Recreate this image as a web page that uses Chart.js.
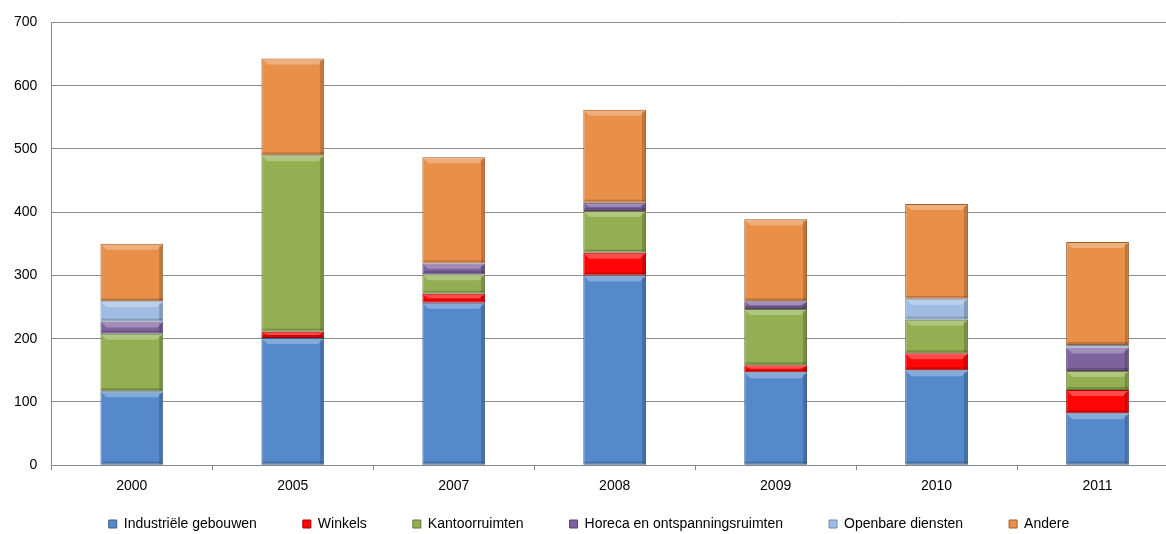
<!DOCTYPE html>
<html>
<head>
<meta charset="utf-8">
<script src="https://cdn.jsdelivr.net/npm/chart.js@4"></script>
<style>
  html, body { margin: 0; padding: 0; background: #fff; overflow: hidden; }
  #wrap { width: 1178px; height: 534px; position: relative; }
</style>
</head>
<body>
<div id="wrap"><canvas id="chart"></canvas></div>
<script>
// categorieën en reeksen
const years = ['2000', '2005', '2007', '2008', '2009', '2010', '2011'];
const industrie = [117, 201, 257, 300, 147, 150, 82];
const winkels = [0, 10, 14, 36, 11, 27, 37];
const kantoren = [91, 279, 31, 66, 89, 53, 30];
const horeca = [19, 0, 17, 13, 12, 0, 37];
const openbaar = [32, 0, 0, 0, 0, 33, 4];
const andere = [91, 153, 168, 147, 130, 150, 163];
const yTicks = [0, 100, 200, 300, 400, 500, 600, 700];

const series = [
    { label: 'Industriële gebouwen', data: industrie, color: '#5589CB', edge: '#3A5F8E' },
    { label: 'Winkels', data: winkels, color: '#FF0505', edge: '#A80000' },
    { label: 'Kantoorruimten', data: kantoren, color: '#93AF52', edge: '#62793A' },
    { label: 'Horeca en ontspanningsruimten', data: horeca, color: '#7D629E', edge: '#54416C' },
    { label: 'Openbare diensten', data: openbaar, color: '#9FBDE2', edge: '#6F8EB2' },
    { label: 'Andere', data: andere, color: '#E8904A', edge: '#9E5E2C' }
];

const font = { family: 'Liberation Sans, Arial', size: 14 };
const LEGEND_GAP = 46;

// lichte bovenrand voor het "bevel" effect
const bevel = {
    id: 'bevel',
    afterDatasetsDraw(chart) {
        const ctx = chart.ctx;
        chart.data.datasets.forEach((ds, i) => {
            chart.getDatasetMeta(i).data.forEach((bar, j) => {
                if (!ds.data[j]) return;
                const { x, y, base, width } = bar.getProps(['x', 'y', 'base', 'width'], true);
                const h = base - y;
                if (h < 4) return;
                const l = x - width / 2, r = x + width / 2;
                ctx.save();
                ctx.fillStyle = 'rgba(255,255,255,0.28)';
                ctx.beginPath();
                ctx.moveTo(l + 1, y + 1);
                ctx.lineTo(r - 1, y + 1);
                ctx.lineTo(r - 6, y + Math.min(6, h / 2));
                ctx.lineTo(l + 6, y + Math.min(6, h / 2));
                ctx.closePath();
                ctx.fill();
                ctx.fillStyle = 'rgba(0,0,0,0.18)';
                ctx.fillRect(r - 4, y + 2, 3, h - 3);
                ctx.fillRect(l + 1, base - 3, width - 2, 2);
                ctx.restore();
            });
        });
    }
};

// legenda: brede tussenruimte maar lage hoogte
const compactLegend = {
    id: 'compactLegend',
    afterInit(chart) {
        const lg = chart.legend;
        const fit = lg.fit, draw = lg.draw;
        lg.fit = function () { fit.call(this); this.height = 31; };
        lg.draw = function () {
            const top = this.top;
            this.top = top - 32;
            draw.call(this);
            this.top = top;
        };
    }
};

new Chart(document.getElementById('chart'), {
    type: 'bar',
    data: {
        labels: years,
        datasets: series.map(s => ({
            label: s.label,
            data: s.data,
            backgroundColor: s.color,
            borderColor: s.edge,
            borderWidth: 1,
            borderSkipped: false,
            barPercentage: 0.39,
            categoryPercentage: 1
        }))
    },
    options: {
        responsive: true,
        maintainAspectRatio: false,
        animation: false,
        layout: { padding: { top: 14, left: 0, right: 0, bottom: 0 } },
        plugins: {
            legend: {
                position: 'bottom',
                labels: {
                    boxWidth: 8,
                    boxHeight: 8,
                    padding: LEGEND_GAP,
                    color: '#000',
                    font: font
                }
            },
            tooltip: { enabled: false }
        },
        scales: {
            x: {
                stacked: true,
                grid: { offset: true, drawOnChartArea: false, color: '#888', tickLength: 5 },
                border: { color: '#888' },
                ticks: { color: '#000', padding: 8, font: font }
            },
            y: {
                stacked: true,
                min: 0,
                max: 700,
                afterBuildTicks: (axis) => { axis.ticks = yTicks.map(v => ({ value: v })); },
                grid: { color: '#8c8c8c', drawTicks: false },
                border: { color: '#888' },
                ticks: { color: '#000', padding: 14, font: font }
            }
        }
    },
    plugins: [bevel, compactLegend]
});
</script>
</body>
</html>
